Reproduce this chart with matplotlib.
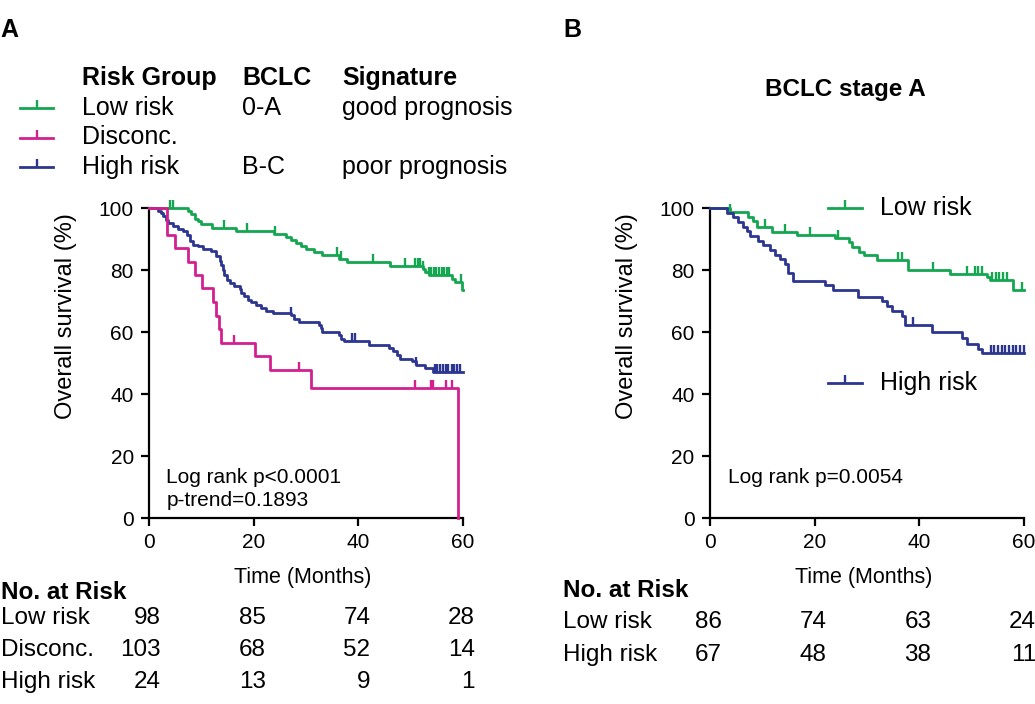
import numpy as np
import matplotlib
matplotlib.use("Agg")
import matplotlib.pyplot as plt
from matplotlib.lines import Line2D
from matplotlib.markers import TICKUP

plt.rcParams["font.family"] = ["Liberation Sans", "DejaVu Sans"]

GREEN = "#14a650"
MAGENTA = "#d3208f"
BLUE = "#2c3590"
LW = 2.0

#panel A - low risk (months, survival %)
a_low_t = [0, 7.5, 8.1, 8.7, 9.4, 10.0, 12.0, 16.6, 23.8, 26.1, 27.1, 28.0, 29.0, 30.0, 31.5, 33.0,
           36.3, 37.8, 46.1, 52.4, 52.8, 53.4, 57.9, 58.4, 59.8, 60]
a_low_s = [100, 99.2, 98.1, 96.5, 95.7, 94.8, 93.4, 92.6, 91.7, 90.7, 89.8, 88.8, 87.8, 86.9, 85.8, 84.7,
           83.7, 82.5, 81.2, 80.2, 79.3, 78.4, 77.2, 76.1, 73.5, 73.5]
a_low_cens = [4.0, 4.6, 14.4, 18.7, 24.0, 35.9, 36.6, 42.8, 48.9, 50.9, 51.3, 51.8, 52.4, 53.4, 53.9,
              54.4, 54.9, 55.4, 55.9, 56.4, 56.9, 57.4, 59.6]

#panel A - disconcordant
a_mid_t = [0, 3.4, 5.0, 7.5, 8.8, 10.1, 12.3, 12.7, 13.4, 13.8, 20.3, 23.1, 30.9, 59.1]
a_mid_s = [100, 91.4, 87.0, 82.7, 78.4, 74.1, 69.6, 65.2, 60.9, 56.5, 52.2, 47.8, 41.9, 0]
a_mid_cens = [16.3, 28.7, 50.8, 53.8, 54.3, 56.8, 57.8]

#panel A - high risk
a_high_t = [0, 1.8, 2.2, 2.7, 3.2, 3.7, 4.6, 5.6, 6.5, 7.2, 7.8, 8.4, 9.4, 10.3, 11.9, 12.8, 13.5, 13.8,
            14.1, 14.4, 14.9, 15.4, 16.3, 17.3, 17.6, 18.2, 18.9, 19.5, 20.4, 21.4, 22.3, 23.6, 27.1,
            27.7, 28.7, 32.5, 32.8, 33.1, 36.3, 36.6, 37.2, 42.0, 45.8, 46.7, 47.3, 48.0, 50.2, 51.1,
            52.7, 54.3, 60]
a_high_s = [100, 99.1, 98.4, 97.4, 96.2, 95.2, 94.1, 93.2, 92.5, 91.4, 89.5, 88.2, 87.6, 86.9, 86.0,
            84.4, 82.8, 81.7, 80.1, 78.5, 76.9, 75.8, 74.7, 73.9, 72.6, 71.5, 70.4, 69.6, 68.8, 67.7,
            66.9, 66.1, 65.4, 64.3, 63.2, 62.4, 61.3, 60.0, 59.1, 57.8, 57.0, 55.7, 54.8, 53.8, 52.7,
            51.4, 50.5, 49.5, 48.4, 47.1, 47.1]
a_high_cens = [27.2, 38.8, 39.4, 51.1, 54.6, 55.1, 55.6, 56.1, 56.7, 57.2, 57.8, 58.3, 58.9, 59.5]

#panel B - low risk
b_low_t = [0, 3.8, 7.3, 8.3, 9.0, 11.8, 16.6, 23.9, 26.5, 27.1, 28.4, 29.4, 31.9, 37.9, 45.9, 52.9,
           53.5, 57.9, 60]
b_low_s = [100, 98.8, 97.2, 95.9, 94.0, 92.4, 91.3, 90.3, 89.1, 87.5, 85.9, 84.8, 83.2, 80.0, 78.7,
           77.6, 76.8, 73.5, 73.5]
b_low_cens = [3.8, 10.5, 14.3, 19.1, 24.5, 35.9, 36.7, 42.6, 49.1, 50.6, 51.2, 52.0, 53.9, 54.6,
              55.3, 56.0, 56.8, 59.6]

#panel B - high risk
b_high_t = [0, 3.2, 4.4, 5.4, 6.3, 7.0, 7.6, 9.2, 10.2, 11.5, 12.4, 13.4, 14.3, 14.9, 15.9, 22.0, 23.5,
            28.3, 32.8, 33.8, 34.7, 36.6, 37.3, 42.4, 48.1, 49.1, 51.2, 51.9, 60]
b_high_s = [100, 98.5, 97.0, 95.5, 94.0, 92.5, 91.0, 89.5, 88.0, 86.5, 85.0, 83.5, 82.0, 79.0, 76.6,
            75.1, 73.6, 71.4, 69.9, 68.4, 66.9, 65.3, 62.2, 60.1, 58.1, 56.1, 54.6, 53.1, 53.1]
b_high_cens = [38.8, 53.7, 54.3, 55.0, 55.7, 56.4, 57.1, 57.8, 58.5, 59.2, 59.9]

#numbers at risk
risk_times = [0, 20, 40, 60]
a_risk_labels = ["Low risk", "Disconc.", "High risk"]
a_risk_counts = [[98, 85, 74, 28], [103, 68, 52, 14], [24, 13, 9, 1]]
b_risk_labels = ["Low risk", "High risk"]
b_risk_counts = [[86, 74, 63, 24], [67, 48, 38, 11]]

legend_headers = ["Risk Group", "BCLC", "Signature"]
legend_groups = ["Low risk", "Disconc.", "High risk"]
legend_bclc = ["0-A", "", "B-C"]
legend_signature = ["good prognosis", "", "poor prognosis"]


def km_curve(ax, t, s, cens, color):
   ax.step(t, s, where="post", color=color, lw=LW, clip_on=False, zorder=3)
   #censor ticks sit on the step level at that time
   t = np.array(t)
   s = np.array(s)
   idx = np.searchsorted(t, cens, side="right") - 1
   ax.plot(cens, s[idx], ls="none", marker=TICKUP, ms=6, mew=1.7, color=color,
           clip_on=False, zorder=3)


def style_axes(ax):
   ax.set_xlim(0, 60)
   ax.set_ylim(0, 100)
   ax.set_xticks([0, 20, 40, 60])
   ax.set_yticks([0, 20, 40, 60, 80, 100])
   ax.spines["top"].set_visible(False)
   ax.spines["right"].set_visible(False)
   for sp in ["left", "bottom"]:
      ax.spines[sp].set_linewidth(1.6)
   ax.tick_params(direction="out", length=6, width=1.6, labelsize=15, pad=5)
   ax.set_xlabel("Time (Months)", fontsize=15.5)
   ax.set_ylabel("Overall survival (%)", fontsize=17)
   ax.xaxis.set_label_coords(0.49, -0.158)
   ax.yaxis.set_label_coords(-0.23, 0.65)


def risk_table(ax, labels, counts, rows_y, head_y, x_left):
   ax.text(x_left, head_y, "No. at Risk", transform=ax.transAxes, fontsize=17.5,
           fontweight="bold", va="center", ha="left", clip_on=False)
   trans = ax.get_xaxis_transform()
   for lab, row, y in zip(labels, counts, rows_y):
      ax.text(x_left, y, lab, transform=ax.transAxes, fontsize=17.5, va="center", ha="left")
      for t, n in zip(risk_times, row):
         ax.text(t + 2.3, y, str(n), transform=trans, fontsize=17.5, va="center", ha="right")


fig = plt.figure(figsize=(10.35, 7.04), dpi=100)
axA = fig.add_axes([0.144, 0.2642, 0.3034, 0.4403])
axB = fig.add_axes([0.686, 0.2642, 0.3034, 0.4403])

#panel A
km_curve(axA, a_low_t, a_low_s, a_low_cens, GREEN)
km_curve(axA, a_high_t, a_high_s, a_high_cens, BLUE)
km_curve(axA, a_mid_t, a_mid_s, a_mid_cens, MAGENTA)
style_axes(axA)
axA.text(0.055, 0.132, "Log rank p<0.0001", transform=axA.transAxes, fontsize=15, va="center")
axA.text(0.055, 0.058, "p-trend=0.1893", transform=axA.transAxes, fontsize=15, va="center")
risk_table(axA, a_risk_labels, a_risk_counts, [-0.323, -0.426, -0.529], -0.239, -0.472)

#panel B
km_curve(axB, b_low_t, b_low_s, b_low_cens, GREEN)
km_curve(axB, b_high_t, b_high_s, b_high_cens, BLUE)
style_axes(axB)
axB.text(0.058, 0.13, "Log rank p=0.0054", transform=axB.transAxes, fontsize=15, va="center")
axB.set_title("BCLC stage A", fontsize=17.5, fontweight="bold", x=0.43, y=1.335)
risk_table(axB, b_risk_labels, b_risk_counts, [-0.335, -0.442], -0.235, -0.468)

#legend for B, keys drawn like the km lines
for lab, color, y in [("Low risk", GREEN, 1.0), ("High risk", BLUE, 0.435)]:
   axB.add_line(Line2D([0.376, 0.484], [y, y], transform=axB.transAxes, color=color, lw=LW,
                       clip_on=False))
   axB.add_line(Line2D([0.43], [y], transform=axB.transAxes, color=color, marker=TICKUP, ms=6,
                       mew=1.7, ls="none", clip_on=False))
   axB.text(0.54, y, lab, transform=axB.transAxes, fontsize=18, va="center", ha="left")

#legend for A with extra columns
fig.text(82 / 1035, 1 - 78 / 704, legend_headers[0], fontsize=18, fontweight="bold", va="center")
fig.text(242 / 1035, 1 - 78 / 704, legend_headers[1], fontsize=18, fontweight="bold", va="center")
fig.text(342 / 1035, 1 - 78 / 704, legend_headers[2], fontsize=18, fontweight="bold", va="center")
for i, color in enumerate([GREEN, MAGENTA, BLUE]):
   y = 1 - (108 + 29.5 * i) / 704
   fig.add_artist(Line2D([20 / 1035, 53 / 1035], [y, y], color=color, lw=LW))
   fig.add_artist(Line2D([36.5 / 1035], [y], color=color, marker=TICKUP, ms=6, mew=1.7, ls="none"))
   fig.text(82 / 1035, y, legend_groups[i], fontsize=18, va="center")
   fig.text(242 / 1035, y, legend_bclc[i], fontsize=18, va="center")
   fig.text(342 / 1035, y, legend_signature[i], fontsize=18, va="center")

#panel letters
fig.text(0.0, 1 - 30 / 704, "A", fontsize=18, fontweight="bold", va="center")
fig.text(563 / 1035, 1 - 30 / 704, "B", fontsize=18, fontweight="bold", va="center")

fig.savefig("out.png", dpi=100)
